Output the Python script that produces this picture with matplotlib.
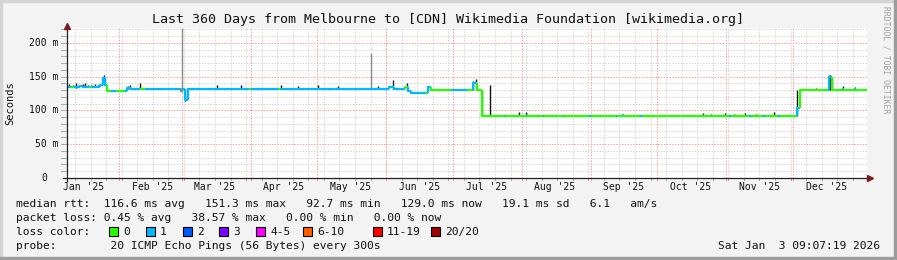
import matplotlib
matplotlib.use('Agg')
import matplotlib.pyplot as plt
from matplotlib.lines import Line2D
from matplotlib.patches import Rectangle
from matplotlib.transforms import blended_transform_factory
from datetime import datetime, timedelta

# ---- data -------------------------------------------------------------
end_time = datetime(2026, 1, 3, 9, 7, 19)
span_days = 360
start_time = end_time - timedelta(days=span_days)

# median rtt: (start_day, end_day, rtt_ms, loss_class)
segments = [
    (0, 2, 135, 1), (2, 3, 134, 0), (3, 6, 135, 1), (6, 7, 136, 1),
    (7, 10, 134, 1), (10, 11, 135, 0), (11, 15, 135, 1), (15, 16.3, 137, 1),
    (16.3, 17, 148, 1), (17, 18, 137, 1), (18, 20, 129, 0), (20, 22, 129, 1),
    (22, 26, 128.5, 0), (26, 27, 129, 1), (27, 29, 133, 1), (29, 33, 131, 1),
    (33, 35, 131, 0), (35, 51.2, 131, 1), (51.2, 51.9, 129, 5), (51.9, 53, 131, 1),
    (53, 54.3, 116, 1), (54.3, 56, 131, 1), (56, 82, 132, 1), (82, 83, 132, 0),
    (83, 95, 132, 1), (95, 96, 132, 0), (96, 145, 132, 1), (145, 147, 135, 1),
    (147, 152, 132, 1), (152, 153.5, 134, 0), (153.5, 155, 129, 1),
    (155, 161, 125.5, 1), (161, 162.5, 126, 0), (162.5, 164, 134, 1),
    (164, 173, 130, 0), (173, 180, 130, 1), (180, 182.5, 130, 0),
    (182.5, 184.5, 140, 1), (184.5, 186.8, 130, 0),
    (186.8, 197, 92.5, 0), (197, 197.6, 92.5, 1), (197.6, 207, 92.5, 0),
    (207, 207.6, 93, 1), (207.6, 214, 92.5, 0), (214, 214.6, 92.5, 1),
    (214.6, 223, 92.5, 0), (223, 223.6, 92.5, 1), (223.6, 235, 92.5, 0),
    (235, 235.6, 92.5, 1), (235.6, 247, 92.5, 0), (247, 247.6, 92.5, 1),
    (247.6, 250, 92.5, 0), (250, 250.6, 93, 1), (250.6, 258, 92.5, 0),
    (258, 258.6, 92.5, 1), (258.6, 298, 92.5, 0), (298, 299, 92.5, 1),
    (299, 307, 92.5, 0), (307, 308, 92.5, 1), (308, 313, 92.5, 0),
    (313, 314, 92.5, 1), (314, 320, 92.5, 0), (320, 321, 92.5, 1),
    (321, 328.5, 92.5, 0),
    (328.5, 329.9, 103, 1), (329.9, 342.8, 130, 0), (342.8, 344.2, 150, 1),
    (344.2, 349, 130, 0), (349, 349.6, 131, 1), (349.6, 354.6, 130, 0),
    (354.6, 355.2, 131, 1), (355.2, 360, 130, 0),
]

# smoke spikes: (day, low_ms, high_ms, color)
smoke = [
    (1.0, 134, 139, '#111'), (2.5, 134, 138, '#111'), (4.0, 133, 140, '#111'),
    (5.5, 134, 137, '#111'), (7.0, 134, 139, '#111'), (8.3, 134, 141, '#111'),
    (9.5, 134, 138, '#111'), (11.0, 134, 137, '#111'), (12.5, 134, 139, '#111'),
    (14.0, 134, 138, '#111'), (16.6, 137, 152, '#111'), (17.1, 137, 150, '#999'),
    (27.6, 131, 136, '#111'), (28.3, 131, 137, '#111'), (32.9, 131, 141, '#111'),
    (51.6, 128, 222, '#888'), (53.2, 114, 131, '#111'),
    (67.5, 132, 138, '#111'), (78.3, 132, 138, '#111'), (96.3, 132, 137, '#111'),
    (104, 132, 136, '#111'), (113, 132, 138, '#111'), (122, 132, 136, '#111'),
    (136.8, 132, 185, '#888'), (140, 132, 136, '#111'), (146.7, 132, 145, '#222'),
    (153, 130, 140, '#111'), (163.4, 130, 136, '#111'), (182.9, 130, 144, '#111'),
    (184, 130, 146, '#111'), (186.9, 92, 130, '#111'), (190.4, 92, 137, '#111'),
    (203.4, 92, 97, '#111'), (206.6, 92, 98, '#111'), (286, 92, 96, '#111'),
    (290, 92, 95, '#111'), (296, 92, 96, '#111'), (300, 92, 95, '#111'),
    (305, 92, 96, '#111'), (310, 92, 95, '#111'), (318, 92, 97, '#111'),
    (328.6, 92, 130, '#111'), (337, 130, 133, '#111'), (342.9, 130, 152, '#111'),
    (343.5, 130, 153, '#111'), (344.1, 130, 150, '#111'), (349, 130, 136, '#111'),
    (354.6, 130, 134, '#111'),
]

loss_labels = ['0', '1', '2', '3', '4-5', '6-10', '11-19', '20/20']
loss_colors = ['#26ff00', '#00b8ff', '#0059ff', '#7e00ff', '#ff00ff',
               '#ff5e00', '#ff0000', '#a10000']

y_ticks = [0, 50, 100, 150, 200]
y_tick_labels = ['0', '50 m', '100 m', '150 m', '200 m']

title = 'Last 360 Days from Melbourne to [CDN] Wikimedia Foundation [wikimedia.org]'
stats_lines = [
    'median rtt:  116.6 ms avg   151.3 ms max   92.7 ms min   129.0 ms now   19.1 ms sd   6.1   am/s',
    'packet loss: 0.45 % avg   38.57 % max   0.00 % min   0.00 % now',
    'loss color:',
    'probe:        20 ICMP Echo Pings (56 Bytes) every 300s',
]
stamp = 'Sat Jan  3 09:07:19 2026'

# ---- figure -----------------------------------------------------------
W, H = 897, 260
MONO = 'DejaVu Sans Mono'
fig = plt.figure(figsize=(W / 100, H / 100), dpi=100, facecolor='#f3f3f3')


def fx(x):
    return x / W


def fy(y):
    return 1 - y / H


def rect(x, y, w, h, color, **kw):
    fig.patches.append(Rectangle((fx(x), fy(y + h)), w / W, h / H,
                                 transform=fig.transFigure, color=color, **kw))


# frame
rect(0, 0, W, 2, '#d4d4d4')
rect(0, 0, 2, H, '#d4d4d4')
rect(W - 3, 0, 3, H, '#9c9c9c')
rect(0, H - 3, W, 3, '#9c9c9c')

ax = fig.add_axes([fx(67), fy(178), 800 / W, 150 / H])
ax.set_xlim(0, span_days)
ax.set_ylim(0, 222)
ax.set_facecolor('white')
for s in ax.spines.values():
    s.set_visible(False)
ax.set_xticks([])
ax.set_yticks([])


def day_of(dt):
    return (dt - start_time).total_seconds() / 86400.0


dots = (0, (1.4, 1.4))
# horizontal grid
for v in range(10, 222, 10):
    major = v % 50 == 0
    ax.axhline(v, color='#ff9a9a' if major else '#d6d6d6', lw=0.72,
               ls=dots, zorder=0.5)
    ax.plot([-2.5, 0], [v, v], color='#aaaaaa', lw=0.72, clip_on=False)

# weekly grid (Sundays)
d = datetime(2025, 1, 12)
week_days = []
while d < end_time:
    week_days.append(day_of(d))
    d += timedelta(days=7)
for wd in week_days:
    ax.axvline(wd, color='#d6d6d6', lw=0.72, ls=dots, zorder=0.5)
    ax.plot([wd, wd], [-3, 0], color='#aaaaaa', lw=0.72, clip_on=False)

# month grid + labels
month_starts = [datetime(2025, m, 1) for m in range(2, 13)]
for ms in month_starts:
    md = day_of(ms)
    ax.axvline(md, color='#ff9a9a', lw=0.72, ls=dots, zorder=0.6)
    ax.plot([md, md], [-3, 0], color='#ff9a9a', lw=0.72, clip_on=False)

xtr = blended_transform_factory(ax.transData, fig.transFigure)
for ms in [datetime(2025, 1, 1)] + month_starts:
    ld = day_of(ms) + 15
    ax.text(ld, fy(187), ms.strftime("%b '%y"), transform=xtr, ha='center',
            va='center', family=MONO, fontsize=7, color='#111')

ytr = blended_transform_factory(fig.transFigure, ax.transData)
for v, lab in zip(y_ticks, y_tick_labels):
    xr = fx(47) if lab == '0' else fx(58)
    ax.text(xr, v, lab, transform=ytr, ha='right', va='center',
            family=MONO, fontsize=7, color='#111')

# smoke
for day, lo, hi, c in smoke:
    ax.vlines(day, lo, hi, color=c, lw=1.0, zorder=2)

# median line coloured by loss
prev = None
for s, e, v, lc in segments:
    xs = [s, e]
    ys = [v, v]
    if prev is not None and prev != v:
        xs = [s, s, e]
        ys = [prev, v, v]
    ax.plot(xs, ys, color=loss_colors[lc], lw=1.6, zorder=3,
            solid_capstyle='butt')
    prev = v

# axes with arrows
fig.add_artist(Line2D([fx(63), fx(869)], [fy(178), fy(178)], color='#222', lw=0.9))
fig.add_artist(Line2D([fx(66.5), fx(66.5)], [fy(181), fy(28)], color='#222', lw=0.9))
fig.add_artist(Line2D([fx(870)], [fy(178)], marker='>', color='#7a1a1a',
                      markersize=4.5, lw=0))
fig.add_artist(Line2D([fx(66.5)], [fy(26)], marker='^', color='#7a1a1a',
                      markersize=4.5, lw=0))

# texts
fig.text(fx(448), fy(19), title, ha='center', va='center', family=MONO,
         fontsize=9.6, color='#111')
fig.text(fx(10), fy(103), 'Seconds', rotation=90, ha='center', va='center',
         family=MONO, fontsize=7.5, color='#111')
fig.text(fx(886), fy(60), 'RRDTOOL / TOBI OETIKER', rotation=270, ha='center',
         va='center', family=MONO, fontsize=5.8, color='#a0a0a0')

for i, line in enumerate(stats_lines):
    fig.text(fx(16), fy(204 + 14 * i), line, ha='left', va='center',
             family=MONO, fontsize=8.1, color='#111')

sq_x = [109, 146, 183, 219, 256, 303, 373, 431]
for x0, lab, c in zip(sq_x, loss_labels, loss_colors):
    rect(x0, 227, 9, 9, c, ec='black', lw=0.8)
    fig.text(fx(x0 + 14), fy(232), lab, ha='left', va='center', family=MONO,
             fontsize=8.1, color='#111')

fig.text(fx(880), fy(246), stamp, ha='right', va='center', family=MONO,
         fontsize=8.1, color='#111')

fig.savefig('out.png', dpi=100, facecolor=fig.get_facecolor())
